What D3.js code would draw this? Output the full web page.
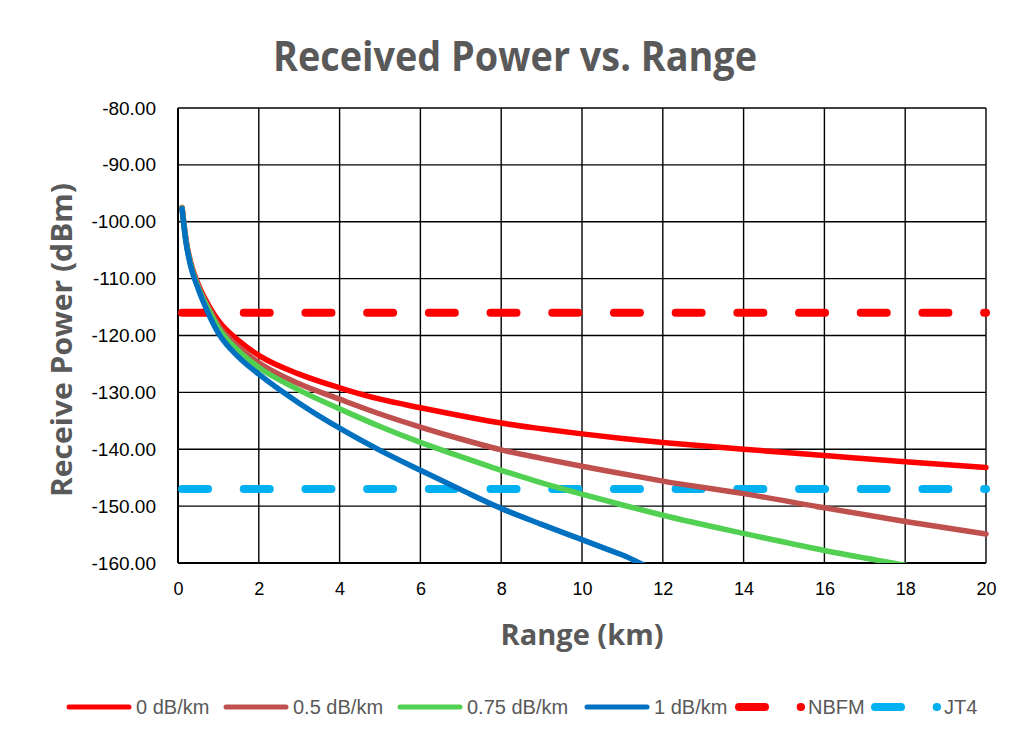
<!DOCTYPE html>
<html>
<head>
<meta charset="utf-8">
<script src="https://cdn.jsdelivr.net/npm/d3@7"></script>
<style>
  body { margin: 0; background: #fff; }
  svg { display: block; }
</style>
</head>
<body>
<svg id="chart" width="1013" height="742"></svg>
<script>
// ranges (km)
var ranges = [0.1, 0.2, 0.3, 0.5, 0.75, 1, 1.5, 2, 3, 4, 5, 6, 7, 8, 9, 10, 11, 12, 14, 16, 18, 20];

var loss0 = [-97.5, -103.3, -106.8, -111.0, -114.6, -117.4, -120.9, -123.5, -126.8, -129.2, -131.2, -132.7, -134.1, -135.4, -136.4, -137.3, -138.1, -138.8, -140.0, -141.1, -142.2, -143.2];
var loss05 = [-97.5, -103.4, -107.0, -111.3, -115.0, -118.2, -122.0, -124.8, -128.5, -131.2, -133.8, -136.1, -138.2, -140.1, -141.6, -143.0, -144.3, -145.6, -147.8, -150.3, -152.7, -154.9];
var loss075 = [-97.6, -103.5, -107.1, -111.5, -115.4, -118.7, -122.7, -125.6, -129.6, -132.9, -136.0, -138.8, -141.3, -143.7, -145.9, -147.9, -149.8, -151.6, -154.8, -157.8, -160.4, -163.0];
var loss1 = [-97.7, -103.7, -107.4, -111.8, -116.1, -119.6, -123.8, -126.8, -131.9, -136.3, -140.2, -143.7, -147.1, -150.4, -153.2, -155.9, -158.6, -161.3];

var limitRanges = [0.1, 20];
var nbfm = [-116, -116];
var jt4 = [-147, -147];

var xTicks = [0, 2, 4, 6, 8, 10, 12, 14, 16, 18, 20];
var yTicks = [-80, -90, -100, -110, -120, -130, -140, -150, -160];

var series = [
  { name: "0 dB/km", xs: ranges, ys: loss0, color: "#FF0000", dashed: false },
  { name: "0.5 dB/km", xs: ranges, ys: loss05, color: "#C0504D", dashed: false },
  { name: "0.75 dB/km", xs: ranges, ys: loss075, color: "#52D052", dashed: false },
  { name: "1 dB/km", xs: ranges, ys: loss1, color: "#0070C0", dashed: false },
  { name: "NBFM", xs: limitRanges, ys: nbfm, color: "#FF0000", dashed: true },
  { name: "JT4", xs: limitRanges, ys: jt4, color: "#00B0F0", dashed: true }
];

function draw() {
  var svg = d3.select("#chart");
  var pLeft = 178, pRight = 986, pTop = 108, pBottom = 563;

  var x = d3.scaleLinear().domain([0, 20]).range([pLeft, pRight]);
  var y = d3.scaleLinear().domain([-160, -80]).range([pBottom, pTop]);

  var grey = "#595959";
  var dashArr = "26,35.7";

  // title
  svg.append("text")
    .attr("x", 515).attr("y", 71)
    .attr("text-anchor", "middle")
    .attr("font-family", "Open Sans, sans-serif")
    .attr("font-weight", "bold")
    .attr("font-size", 41)
    .attr("fill", grey)
    .attr("textLength", 484)
    .attr("lengthAdjust", "spacingAndGlyphs")
    .text("Received Power vs. Range");

  // grid
  svg.append("g")
    .selectAll("line")
    .data(xTicks)
    .enter()
    .append("line")
    .attr("x1", function(d) { return x(d); })
    .attr("x2", function(d) { return x(d); })
    .attr("y1", pTop).attr("y2", pBottom)
    .attr("stroke", "#000")
    .attr("stroke-width", function(d) { return d == 0 ? 2 : 1.4; });

  svg.append("g")
    .selectAll("line")
    .data(yTicks)
    .enter()
    .append("line")
    .attr("x1", pLeft).attr("x2", pRight)
    .attr("y1", function(d) { return y(d); })
    .attr("y2", function(d) { return y(d); })
    .attr("stroke", "#000")
    .attr("stroke-width", function(d) { return d == -160 ? 2 : 1.4; });

  // axes
  var yAxis = svg.append("g")
    .attr("transform", "translate(" + pLeft + ",0)")
    .call(d3.axisLeft(y).tickValues(yTicks).tickSize(0).tickPadding(22)
      .tickFormat(function(d) { return d.toFixed(2); }));
  yAxis.select(".domain").remove();
  yAxis.selectAll("text")
    .attr("font-family", "Liberation Sans, Arial, sans-serif")
    .attr("font-size", 19)
    .attr("fill", "#000");

  var xAxis = svg.append("g")
    .attr("transform", "translate(0," + pBottom + ")")
    .call(d3.axisBottom(x).tickValues(xTicks).tickSize(0).tickPadding(19));
  xAxis.select(".domain").remove();
  xAxis.selectAll("text")
    .attr("font-family", "Liberation Sans, Arial, sans-serif")
    .attr("font-size", 18)
    .attr("fill", "#000");

  // axis titles
  svg.append("text")
    .attr("x", 582).attr("y", 645)
    .attr("text-anchor", "middle")
    .attr("font-family", "Open Sans, sans-serif")
    .attr("font-weight", "bold")
    .attr("font-size", 29)
    .attr("fill", grey)
    .attr("textLength", 163)
    .attr("lengthAdjust", "spacingAndGlyphs")
    .text("Range (km)");

  svg.append("text")
    .attr("transform", "translate(72,340) rotate(-90)")
    .attr("text-anchor", "middle")
    .attr("font-family", "Open Sans, sans-serif")
    .attr("font-weight", "bold")
    .attr("font-size", 29)
    .attr("fill", grey)
    .attr("textLength", 314)
    .attr("lengthAdjust", "spacingAndGlyphs")
    .text("Receive Power (dBm)");

  // lines
  svg.append("clipPath").attr("id", "plotclip")
    .append("rect")
    .attr("x", pLeft - 10).attr("y", pTop - 10)
    .attr("width", pRight - pLeft + 20).attr("height", pBottom - pTop + 10);

  var line = d3.line()
    .x(function(d) { return x(d[0]); })
    .y(function(d) { return y(d[1]); })
    .curve(d3.curveMonotoneX);

  var plot = svg.append("g").attr("clip-path", "url(#plotclip)");

  // dashed limits drawn first, curves on top
  var order = [4, 5, 0, 1, 2, 3];
  order.forEach(function(i) {
    var s = series[i];
    var pts = s.xs.map(function(v, k) { return [v, s.ys[k]]; });
    plot.append("path")
      .attr("d", line(pts))
      .attr("fill", "none")
      .attr("stroke", s.color)
      .attr("stroke-width", s.dashed ? 8 : 5.5)
      .attr("stroke-linecap", "round")
      .attr("stroke-linejoin", "round")
      .attr("stroke-dasharray", s.dashed ? dashArr : null);
  });

  // legend
  var legendX = [69, 226, 400, 587, 739, 875];
  var legend = svg.append("g").attr("transform", "translate(0,707)");
  series.forEach(function(s, i) {
    var lx = legendX[i];
    var len = s.dashed ? 62 : 60;
    legend.append("line")
      .attr("x1", lx).attr("x2", lx + len)
      .attr("y1", 0).attr("y2", 0)
      .attr("stroke", s.color)
      .attr("stroke-width", s.dashed ? 8 : 5)
      .attr("stroke-linecap", "round")
      .attr("stroke-dasharray", s.dashed ? dashArr : null);
    legend.append("text")
      .attr("x", lx + (s.dashed ? 69 : 67))
      .attr("y", 7)
      .attr("font-family", "Liberation Sans, sans-serif")
      .attr("font-size", 20)
      .attr("fill", grey)
      .text(s.name);
  });
}

draw();
</script>
</body>
</html>
